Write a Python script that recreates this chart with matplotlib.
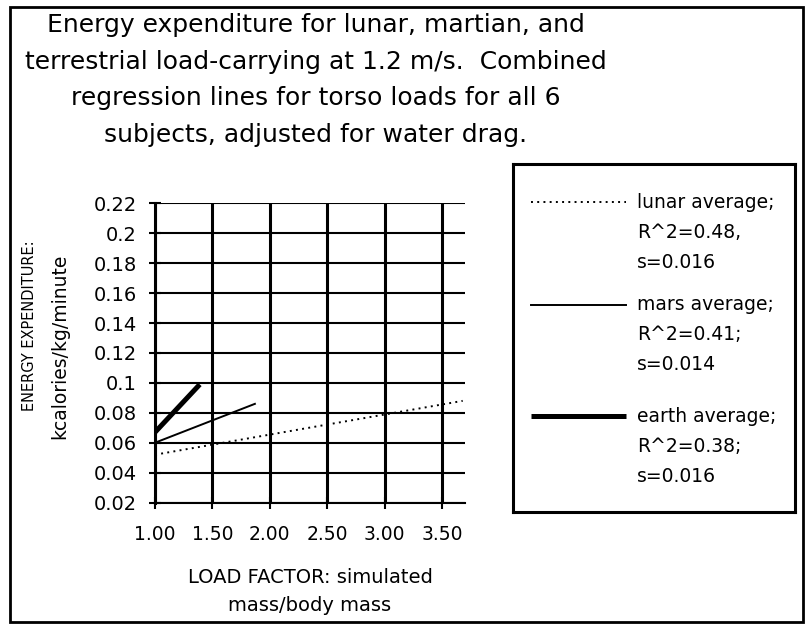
import matplotlib
matplotlib.use("Agg")
import matplotlib.pyplot as plt
from matplotlib.ticker import FixedLocator, FormatStrFormatter, FuncFormatter
from matplotlib.patches import Rectangle

# ---------------- data ----------------
title_lines = [
    "Energy expenditure for lunar, martian, and",
    "terrestrial load-carrying at 1.2 m/s.  Combined",
    "regression lines for torso loads for all 6",
    "subjects, adjusted for water drag.",
]
x_ticks = [1.0, 1.5, 2.0, 2.5, 3.0, 3.5]
y_ticks = [0.02, 0.04, 0.06, 0.08, 0.10, 0.12, 0.14, 0.16, 0.18, 0.20, 0.22]

lunar_x = [1.0, 3.68]
lunar_y = [0.052, 0.088]
mars_x = [1.0, 1.87]
mars_y = [0.060, 0.086]
earth_x = [1.0, 1.39]
earth_y = [0.067, 0.099]

lunar_label = ["lunar average;", "R^2=0.48,", "s=0.016"]
mars_label = ["mars average;", "R^2=0.41;", "s=0.014"]
earth_label = ["earth average;", "R^2=0.38;", "s=0.016"]

x_label = "LOAD FACTOR: simulated\nmass/body mass"
y_label_1 = "ENERGY EXPENDITURE:"
y_label_2 = "kcalories/kg/minute"

# ---------------- figure ----------------
W, H = 807, 625
plt.rcParams['font.family'] = ['DejaVu Sans']
fig = plt.figure(figsize=(W / 100, H / 100), dpi=100)


def fx(px):
    return px / W


def fy(py):
    return 1 - py / H


# outer frame
fig.add_artist(Rectangle((fx(10), fy(622)), fx(803) - fx(10), fy(7) - fy(622),
                         transform=fig.transFigure, fill=False, lw=2, ec='black'))

# title lines
for i, line in enumerate(title_lines):
    fig.text(fx(316), fy(25 + 36.5 * i), line, ha='center', va='center', fontsize=18)

# main axes
ax = fig.add_axes([fx(155), fy(502.7), fx(465) - fx(155), fy(203.3) - fy(502.7)])
ax.set_xlim(1.0, 3.70)
ax.set_ylim(0.0199, 0.2201)

ax.plot(lunar_x, lunar_y, color='black', lw=1.4, ls=(0, (1, 2.2)))
ax.plot(mars_x, mars_y, color='black', lw=1.4, ls='-')
ax.plot(earth_x, earth_y, color='black', lw=3.6, ls='-', solid_capstyle='butt')

ax.xaxis.set_major_locator(FixedLocator(x_ticks))
ax.yaxis.set_major_locator(FixedLocator(y_ticks))
ax.xaxis.set_major_formatter(FormatStrFormatter('%.2f'))
ax.yaxis.set_major_formatter(FuncFormatter(lambda v, p: f"{v:g}"))

ax.grid(True, axis='x', color='black', lw=2.2)
ax.grid(True, axis='y', color='black', lw=1.5)
ax.set_axisbelow(False)

for s in ['top', 'right']:
    ax.spines[s].set_visible(False)
ax.spines['left'].set_linewidth(2.2)
ax.spines['bottom'].set_linewidth(1.5)

ax.tick_params(axis='both', direction='inout', length=8, width=1.5, colors='black')
ax.tick_params(axis='x', pad=12, labelsize=13.5)
ax.tick_params(axis='y', pad=9, labelsize=14)

ax.set_xlabel(x_label, fontsize=14, linespacing=1.6, labelpad=17)

fig.text(fx(30), fy(326), y_label_1, rotation=90, ha='center', va='center', fontsize=10.5)
fig.text(fx(60), fy(346), y_label_2, rotation=90, ha='center', va='center', fontsize=13.5)

# legend box (drawn in its own pixel-unit axes)
lx0, ly0, lx1, ly1 = 513, 164, 795, 512
lax = fig.add_axes([fx(lx0), fy(ly1), fx(lx1) - fx(lx0), fy(ly0) - fy(ly1)])
lax.set_xlim(0, lx1 - lx0)
lax.set_ylim(ly1 - ly0, 0)
lax.set_xticks([])
lax.set_yticks([])
for s in lax.spines.values():
    s.set_linewidth(2.2)

entries = [
    (lunar_label, dict(lw=1.4, ls=(0, (1, 2.2))), 38),
    (mars_label, dict(lw=1.4, ls='-'), 141),
    (earth_label, dict(lw=3.6, ls='-', solid_capstyle='butt'), 252),
]
for labels, style, y0 in entries:
    lax.plot([18, 113], [y0, y0], color='black', **style)
    for j, t in enumerate(labels):
        lax.text(124, y0 + 30 * j, t, ha='left', va='center', fontsize=13.5)

fig.savefig("out.png", dpi=100)
